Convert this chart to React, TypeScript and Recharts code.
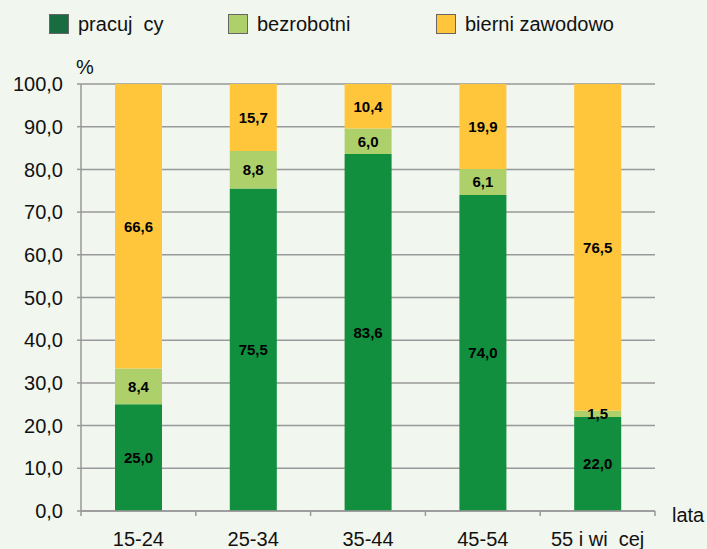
import React from 'react'
import { Bar, BarChart, CartesianGrid, LabelList, XAxis, YAxis } from 'recharts'

const categories = ['15-24', '25-34', '35-44', '45-54', '55 i wi  cej']
const pracujacy = [25.0, 75.5, 83.6, 74.0, 22.0]
const bezrobotni = [8.4, 8.8, 6.0, 6.1, 1.5]
const bierni = [66.6, 15.7, 10.4, 19.9, 76.5]
const yTicks = [0, 10, 20, 30, 40, 50, 60, 70, 80, 90, 100]

const seriesNames = ['pracuj  cy', 'bezrobotni', 'bierni zawodowo']

const data = categories.map((name, i) => ({
  name,
  pracujacy: pracujacy[i],
  bezrobotni: bezrobotni[i],
  bierni: bierni[i],
}))

const W = 707
const H = 549
const PLOT_LEFT = 81
const PLOT_RIGHT = 655
const FONT = '"Liberation Sans", Arial, sans-serif'
const BG = '#F1F6EE'

const fmt = (v: any) => Number(v).toFixed(1).replace('.', ',')

const bandWidth = (PLOT_RIGHT - PLOT_LEFT) / categories.length

// tick marks sit on the band edges, labels at band centres
const XTick = (props: any) => {
  const { x, y, payload, index } = props
  const left = x - bandWidth / 2
  return (
    <g>
      <line x1={left} y1={y} x2={left} y2={y + 5} stroke="#999" strokeWidth={1.5} />
      {index === categories.length - 1 && (
        <line x1={left + bandWidth} y1={y} x2={left + bandWidth} y2={y + 5} stroke="#999" strokeWidth={1.5} />
      )}
      <text
        x={x}
        y={y + 35}
        textAnchor="middle"
        fill="#111"
        fontSize={20}
        fontFamily={FONT}
        style={{ whiteSpace: 'pre' }}
      >
        {payload.value}
      </text>
    </g>
  )
}

const legendItems = [
  { label: seriesNames[0], color: '#176C40', x: 49 },
  { label: seriesNames[1], color: '#ADD06A', x: 228 },
  { label: seriesNames[2], color: '#FFC63C', x: 436 },
]

const App = () => {
  return (
    <div
      style={{
        position: 'fixed',
        left: 0,
        top: 0,
        width: W,
        height: H,
        background: BG,
        fontFamily: FONT,
        overflow: 'hidden',
      }}
    >
      {legendItems.map((item) => (
        <div key={item.label} style={{ position: 'absolute', left: item.x, top: 14 }}>
          <div
            style={{
              position: 'absolute',
              left: 0,
              top: 0,
              width: 18,
              height: 18,
              background: item.color,
              border: '1px solid #666',
            }}
          />
          <div
            style={{
              position: 'absolute',
              left: 29,
              top: -2,
              fontSize: 20,
              lineHeight: '24px',
              color: '#111',
              whiteSpace: 'pre',
            }}
          >
            {item.label}
          </div>
        </div>
      ))}
      <div style={{ position: 'absolute', left: 76, top: 55, fontSize: 20, lineHeight: '24px', color: '#111' }}>%</div>
      <div style={{ position: 'absolute', left: 672, top: 503, fontSize: 20, lineHeight: '24px', color: '#111' }}>lata</div>

      <BarChart
        width={W}
        height={H}
        data={data}
        margin={{ top: 84, right: W - PLOT_RIGHT, left: 0, bottom: 0 }}
        barCategoryGap={0}
        style={{ position: 'absolute', left: 0, top: 0 }}
      >
        <CartesianGrid vertical={false} stroke="#999" strokeWidth={1.5} />
        <XAxis
          dataKey="name"
          height={38}
          axisLine={{ stroke: '#999', strokeWidth: 1.5 }}
          tickLine={false}
          tickSize={0}
          tickMargin={0}
          tick={<XTick />}
          interval={0}
        />
        <YAxis
          width={PLOT_LEFT}
          domain={[0, 100]}
          ticks={yTicks}
          tickFormatter={fmt}
          axisLine={{ stroke: '#999', strokeWidth: 1.5 }}
          tickLine={{ stroke: '#999', strokeWidth: 1.5 }}
          tickSize={4}
          tickMargin={14}
          tick={{ fontSize: 20, fill: '#111', fontFamily: FONT }}
        />
        <Bar dataKey="pracujacy" stackId="a" fill="#118F3E" barSize={47} isAnimationActive={false}>
          <LabelList dataKey="pracujacy" position="center" formatter={fmt} fill="#000" fontSize={15} fontWeight="bold" fontFamily={FONT} />
        </Bar>
        <Bar dataKey="bezrobotni" stackId="a" fill="#ADD06A" barSize={47} isAnimationActive={false}>
          <LabelList dataKey="bezrobotni" position="center" formatter={fmt} fill="#000" fontSize={15} fontWeight="bold" fontFamily={FONT} />
        </Bar>
        <Bar dataKey="bierni" stackId="a" fill="#FFC63C" barSize={47} isAnimationActive={false}>
          <LabelList dataKey="bierni" position="center" formatter={fmt} fill="#000" fontSize={15} fontWeight="bold" fontFamily={FONT} />
        </Bar>
      </BarChart>
    </div>
  )
}

export default App
